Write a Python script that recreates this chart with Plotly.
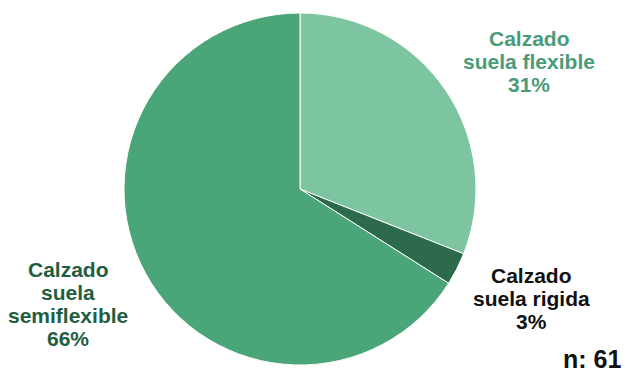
import plotly.graph_objects as go

labels = ["Calzado suela flexible", "Calzado suela rigida", "Calzado suela semiflexible"]
values = [31, 3, 66]
pct_text = ["31%", "3%", "66%"]
label_lines = [["Calzado", "suela flexible"], ["Calzado", "suela rigida"], ["Calzado", "suela", "semiflexible"]]
slice_colors = ["#7cc5a0", "#2d6a4c", "#4aa578"]
label_colors = ["#4a9b79", "#111111", "#1f5e40"]
n_total = 61

W, H = 625, 383

fig = go.Figure(go.Pie(
    labels=labels, values=values, sort=False, direction="clockwise", rotation=0,
    marker=dict(colors=slice_colors, line=dict(color="white", width=1)),
    textinfo="none", hoverinfo="label+percent", showlegend=False,
    domain=dict(x=[124/W, 476/W], y=[18/H, 370/H]),
))

# label block anchors (pixel centre x, first-line centre y), line spacing in px
label_pos = [(529, 38), (531, 275), (68, 269)]
line_gap = 23.3

for i in range(len(values)):
    lines = label_lines[i] + [pct_text[i]]
    cx, y0 = label_pos[i]
    for j, t in enumerate(lines):
        fig.add_annotation(x=cx/W, y=1-(y0 + j*line_gap)/H, xref="paper", yref="paper",
                           showarrow=False, xanchor="center", yanchor="middle",
                           text="<b>" + t + "</b>",
                           font=dict(family="Liberation Sans, Arial, sans-serif", size=21,
                                     color=label_colors[i]))

fig.add_annotation(x=623/W, y=1-359/H, xref="paper", yref="paper", showarrow=False,
                   xanchor="right", yanchor="middle", text="<b>n: " + str(n_total) + "</b>",
                   font=dict(family="Liberation Sans, Arial, sans-serif", size=25, color="#111111"))

fig.update_layout(width=W, height=H, margin=dict(l=0, r=0, t=0, b=0),
                  paper_bgcolor="white", plot_bgcolor="white")
fig.write_html("out.html", config={"displayModeBar": False},
               post_script="document.body.style.margin='0';")
